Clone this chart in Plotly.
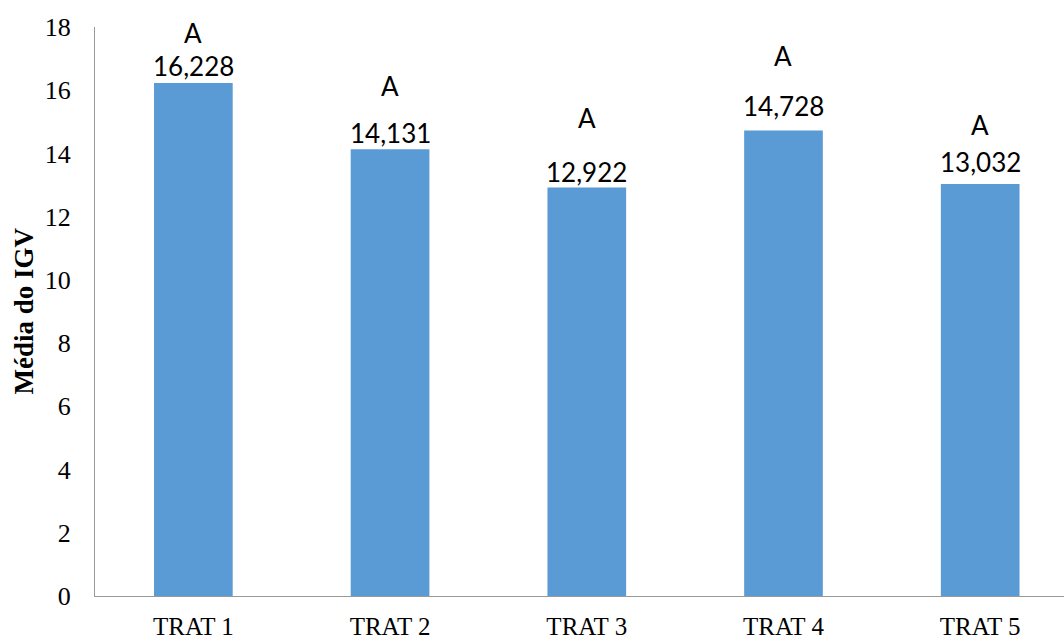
import plotly.graph_objects as go

categories = ["TRAT 1", "TRAT 2", "TRAT 3", "TRAT 4", "TRAT 5"]
values = [16.228, 14.131, 12.922, 14.728, 13.032]
value_labels = ["16,228", "14,131", "12,922", "14,728", "13,032"]
letters = ["A", "A", "A", "A", "A"]
y_ticks = [0, 2, 4, 6, 8, 10, 12, 14, 16, 18]
y_title = "Média do IGV"

# label placement (data units)
value_label_y = [16.77, 14.66, 13.40, 15.50, 13.73]
letter_y = [17.80, 16.12, 15.11, 17.08, 14.90]

fig = go.Figure()
fig.add_trace(go.Bar(
    x=categories, y=values,
    marker=dict(color="#5B9BD5", line=dict(width=0)),
    width=0.4,
    hoverinfo="skip",
))

lab_font = dict(family="Lato, Open Sans, sans-serif", size=26, color="#000000")
for c, t, yv in zip(categories, value_labels, value_label_y):
    fig.add_annotation(x=c, y=yv, text=t, showarrow=False, xanchor="center",
                       yanchor="middle", font=lab_font)
for c, t, yv in zip(categories, letters, letter_y):
    fig.add_annotation(x=c, y=yv, text=t, showarrow=False, xanchor="center",
                       yanchor="middle", font=lab_font)

serif = "Liberation Serif, Times New Roman, serif"
fig.add_annotation(
    xref="paper", yref="paper", x=0, y=0.5, xshift=-72,
    text="<b>" + y_title + "</b>", textangle=-90, showarrow=False,
    xanchor="center", yanchor="middle",
    font=dict(family=serif, size=27, color="#000000"),
)

fig.update_layout(
    width=1064, height=639,
    margin=dict(l=95, r=0, t=27, b=43, autoexpand=False),
    paper_bgcolor="white", plot_bgcolor="white",
    showlegend=False,
    xaxis=dict(
        type="category",
        range=[-0.5, 4.426],
        showline=True, linecolor="#999999", linewidth=1,
        showgrid=False, zeroline=False, automargin=False,
        ticks="", ticklabelstandoff=8,
        tickfont=dict(family=serif, size=25, color="#000000"),
    ),
    yaxis=dict(
        range=[0, 18],
        tickvals=y_ticks,
        showline=True, linecolor="#999999", linewidth=1,
        showgrid=False, zeroline=False, automargin=False,
        ticks="", ticklabelstandoff=18,
        tickfont=dict(family=serif, size=26, color="#000000"),
    ),
)

fig.write_html("out.html")
